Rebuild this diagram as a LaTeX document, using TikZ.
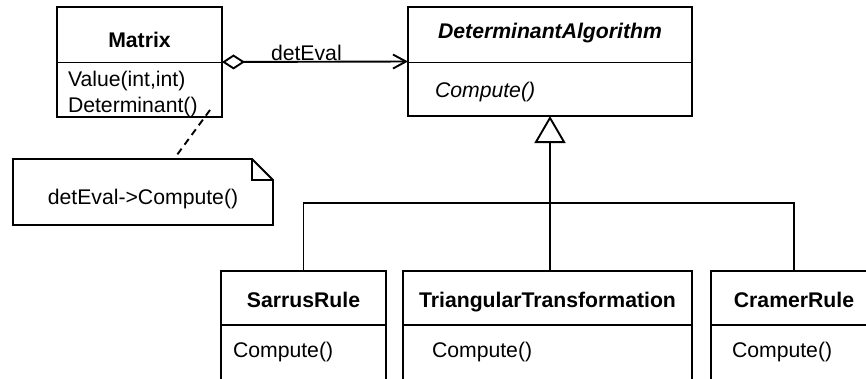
\documentclass[tikz,border=0pt]{standalone}
\usepackage{fontspec}
\setmainfont{Liberation Sans}
\usetikzlibrary{arrows.meta}
\begin{document}
\begin{tikzpicture}[x=1pt,y=-1pt,
  every node/.style={font=\fontsize{21.2pt}{25pt}\selectfont, inner sep=0pt, outer sep=0pt},
  umlbox/.style={draw, line width=1.9pt, fill=white, anchor=north west},
  thin line/.style={line width=1.9pt},
  title/.style={anchor=base, font=\fontsize{21.2pt}{25pt}\selectfont\bfseries},
  member/.style={anchor=base west}
]
\clip (0,0) rectangle (866,378);
\fill[white] (0,0) rectangle (866,378);

% class Matrix
\node[umlbox, minimum width=165pt, minimum height=110pt] (matrix) at (57,7) {};
\draw[thin line] (matrix.west |- 0,62.5) coordinate (mdivl) -- (matrix.east |- mdivl);
\node[title] (mtitle) at (139.5,47) {Matrix};
\node[member] (mval) at (68,86) {Value(int,int)};
\node[member] (mdet) at (68,112) {Determinant()};

% abstract class DeterminantAlgorithm
\node[umlbox, minimum width=284pt, minimum height=109pt] (algo) at (408,7) {};
\draw[thin line] (algo.west |- 0,62.5) coordinate (adivl) -- (algo.east |- adivl);
\node[title, font=\fontsize{21.2pt}{25pt}\selectfont\bfseries\itshape] (atitle) at (550,38) {DeterminantAlgorithm};
\node[member, font=\fontsize{21.2pt}{25pt}\selectfont\itshape] (acomp) at (435,97) {Compute()};

% concrete algorithms
\node[umlbox, minimum width=165pt, minimum height=150pt] (sarrus) at (221,271) {};
\draw[thin line] (sarrus.west |- 0,325) coordinate (sdivl) -- (sarrus.east |- sdivl);
\node[title] (stitle) at (sarrus.north |- 0,307) {SarrusRule};
\node[member] (scomp) at (233,357) {Compute()};

\node[umlbox, minimum width=289pt, minimum height=150pt] (tri) at (403,271) {};
\draw[thin line] (tri.west |- 0,325) coordinate (tdivl) -- (tri.east |- tdivl);
\node[title] (ttitle) at (tri.north |- 0,307) {TriangularTransformation};
\node[member] (tcomp) at (432,357) {Compute()};

\node[umlbox, minimum width=166pt, minimum height=150pt] (cramer) at (711,271) {};
\draw[thin line] (cramer.west |- 0,325) coordinate (cdivl) -- (cramer.east |- cdivl);
\node[title] (ctitle) at (cramer.north |- 0,307) {CramerRule};
\node[member] (ccomp) at (732,357) {Compute()};

% aggregation detEval
\draw[thin line, {Diamond[open, fill=white, length=23pt, width=15pt]}-{Straight Barb[length=13pt, width=14pt, line width=1.9pt]}]
  (matrix.east) -- (algo.west);
\node[anchor=base west] (evallabel) at (271,60) {detEval};

% generalization tree
\coordinate (bus) at (algo.south |- 0,203);
\draw[thin line, -{Triangle[open, fill=white, length=27pt, width=31pt]}] (bus) -- (algo.south);
\draw[thin line] (sarrus.north) |- (bus) -| (cramer.north);
\draw[thin line] (bus) -- (bus |- tri.north);

% note with folded corner
\node[anchor=north west, minimum width=260pt, minimum height=66pt] (note) at (13,159) {};
\draw[thin line, fill=white]
  (note.north west) -- ([xshift=-21pt]note.north east) -- ([yshift=-21pt]note.north east)
  -- (note.south east) -- (note.south west) -- cycle;
\draw[thin line] ([xshift=-21pt]note.north east) |- ([yshift=-21pt]note.north east);
\node[anchor=base] (notetext) at (143,204) {detEval->Compute()};
\coordinate (anchorpt) at (210,110);
\draw[thin line, dash pattern=on 7pt off 5pt] (anchorpt) -- (note.north -| 174,0);
\end{tikzpicture}
\end{document}
